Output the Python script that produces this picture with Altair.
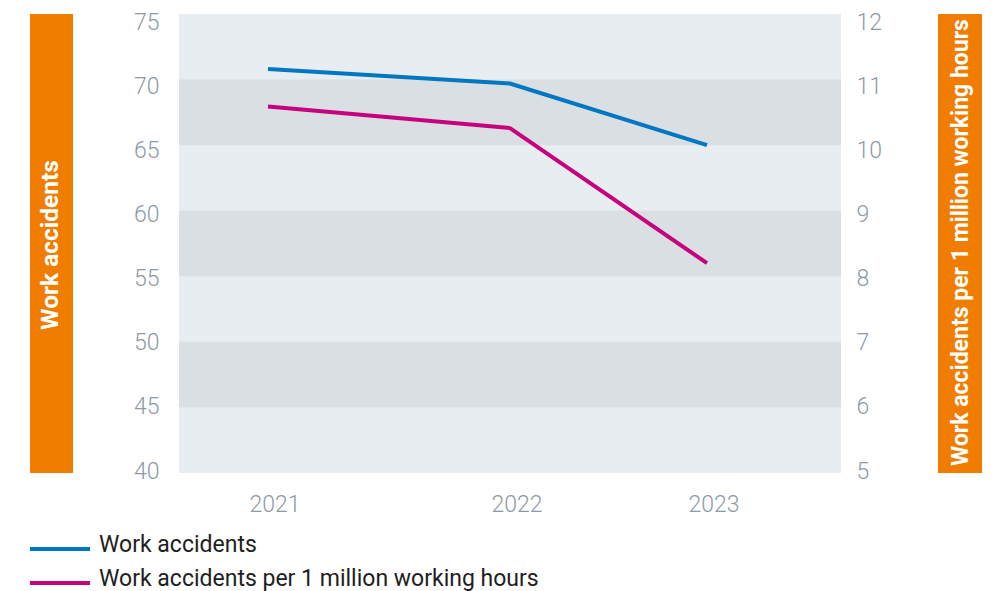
import altair as alt
import pandas as pd

years = [2021, 2022, 2023]
year_labels = ["2021", "2022", "2023"]
work_accidents = [70.8, 69.7, 65.0]
per_million = [10.59, 10.26, 8.20]
band_lo = [65, 55, 45]
band_hi = [70, 60, 50]
left_ticks = [40, 45, 50, 55, 60, 65, 70, 75]
right_ticks = [5, 6, 7, 8, 9, 10, 11, 12]
series = ["Work accidents", "Work accidents per 1 million working hours"]
colors = ["#0077c1", "#c7007e"]
left_title = "Work accidents"
right_title = "Work accidents per 1 million working hours"

W, H = 662, 459
ORANGE = "#f07d00"
TICK = "#8c9aa5"
df = pd.DataFrame({"year": years, "label": year_labels, "wa": work_accidents, "pm": per_million})
bands = pd.DataFrame({"lo": band_lo, "hi": band_hi})

xscale = alt.Scale(domain=years, range=[89, 331, 528], nice=False, zero=False)
yl = alt.Scale(domain=[40, 75], nice=False, zero=False)
yr = alt.Scale(domain=[5, 12], nice=False, zero=False)
lab_l = alt.Scale(domain=[40, 75], range=[457, 8], nice=False, zero=False)
lab_r = alt.Scale(domain=[5, 12], range=[457, 8], nice=False, zero=False)
laxis = alt.Axis(values=left_ticks, title=None, domain=False, ticks=False, grid=False,
                 labelFontSize=23, labelColor=TICK, labelPadding=20, orient="left",
                 labelFont="Roboto", labelFontWeight=300, labelFlush=False)
raxis = alt.Axis(values=right_ticks, title=None, domain=False, ticks=False, grid=False,
                 labelFontSize=23, labelColor=TICK, labelPadding=15, orient="right",
                 labelFont="Roboto", labelFontWeight=300, labelFlush=False)

band_layer = alt.Chart(bands).mark_rect(color="#dadfe3").encode(
    y=alt.Y("lo:Q", scale=yl, axis=None), y2="hi:Q",
    x=alt.value(0), x2=alt.value(W))
blue = alt.Chart(df).mark_line(color=colors[0], strokeWidth=4, strokeCap="butt").encode(
    x=alt.X("year:Q", scale=xscale, axis=None),
    y=alt.Y("wa:Q", scale=yl, axis=None))
inner = alt.layer(band_layer, blue)

pink = alt.Chart(df).mark_line(color=colors[1], strokeWidth=4, strokeCap="butt").encode(
    x=alt.X("year:Q", scale=xscale, axis=None),
    y=alt.Y("pm:Q", scale=yr, axis=None))

xlabels = alt.Chart(df).mark_text(
    fontSize=23, color=TICK, font="Roboto", fontWeight=300, align="center",
    baseline="alphabetic", dx=7).encode(
    x=alt.X("year:Q", scale=xscale, axis=None), text="label:N", y=alt.value(498))

lt = alt.Chart(pd.DataFrame({"v": left_ticks})).mark_point(opacity=0).encode(
    y=alt.Y("v:Q", scale=lab_l, axis=laxis))
rt = alt.Chart(pd.DataFrame({"v": right_ticks})).mark_point(opacity=0).encode(
    y=alt.Y("v:Q", scale=lab_r, axis=raxis))

one = pd.DataFrame({"a": [0]})
left_box = alt.Chart(one).mark_rect(color=ORANGE).encode(
    x=alt.value(-149), x2=alt.value(-106), y=alt.value(0), y2=alt.value(H))
right_box = alt.Chart(one).mark_rect(color=ORANGE).encode(
    x=alt.value(759), x2=alt.value(803), y=alt.value(0), y2=alt.value(H))
left_text = alt.Chart(pd.DataFrame({"t": [left_title]})).mark_text(
    angle=270, color="white", font="Roboto", fontWeight="bold", fontSize=24.5,
    align="center", baseline="middle").encode(
    text="t:N", x=alt.value(-128.5), y=alt.value(231))
right_text = alt.Chart(pd.DataFrame({"t": [right_title]})).mark_text(
    angle=270, color="white", font="Roboto", fontWeight="bold", fontSize=23,
    align="center", baseline="middle").encode(
    text="t:N", x=alt.value(781.5), y=alt.value(228.5))

legend_layers = []
for i, (s, c) in enumerate(zip(series, colors)):
    ly = 535 + 34 * i
    legend_layers.append(alt.Chart(one).mark_rule(color=c, strokeWidth=4, strokeCap="butt").encode(
        x=alt.value(-149), x2=alt.value(-89), y=alt.value(ly)))
    legend_layers.append(alt.Chart(pd.DataFrame({"s": [s]})).mark_text(
        align="left", baseline="alphabetic", fontSize=23, color="#1e1e1e", font="Roboto").encode(
        text="s:N", x=alt.value(-80), y=alt.value(ly + 3)))

chart = alt.layer(inner, pink, xlabels, lt, rt, left_box, right_box, left_text, right_text,
                  *legend_layers).resolve_scale(y="independent").properties(
    width=W, height=H,
    padding={"left": 171, "top": 6, "right": 150, "bottom": 118},
    autosize=alt.AutoSizeParams(type="none"),
    background="white",
).configure_view(fill="#e8edf1", stroke=None)

chart.save("out.html", embed_options={"renderer": "svg", "actions": False})
